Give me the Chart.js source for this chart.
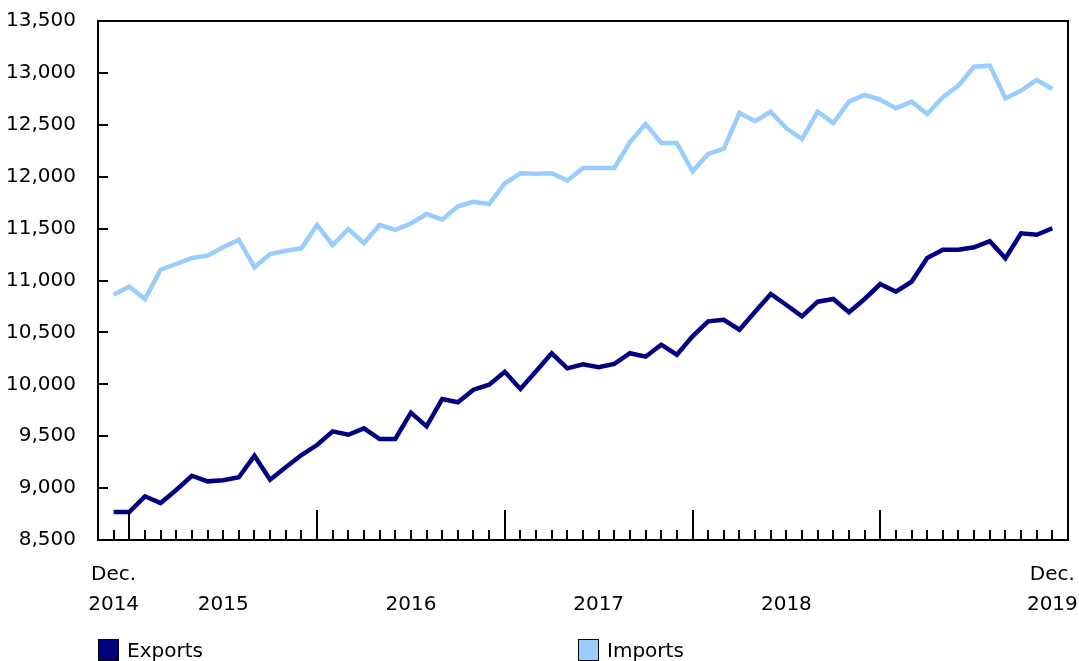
<!DOCTYPE html>
<html>
<head>
<meta charset="utf-8">
<script src="https://cdn.jsdelivr.net/npm/chart.js@4/dist/chart.umd.min.js"></script>
<style>
  html, body { margin: 0; padding: 0; background: #fff; overflow: hidden; }
  #wrap { position: relative; width: 1079px; height: 661px; }
  .legend { position: absolute; top: 638px; display: flex; align-items: center;
            font: 20px "DejaVu Sans", Verdana, sans-serif; color: #000; }
  .legend .box { width: 19px; height: 20px; border: 1px solid #000; margin-right: 8px; }
</style>
</head>
<body>
<div id="wrap">
  <canvas id="chart"></canvas>
  <div class="legend" style="left:98px"><span class="box" style="background:#000080"></span>Exports</div>
  <div class="legend" style="left:578px"><span class="box" style="background:#99ccff"></span>Imports</div>
</div>
<script>
// ======= Data (Dec. 2014 to Dec. 2019, monthly) =======
const exportsData = [
  8770, 8770, 8921, 8856, 8982, 9119, 9065, 9075, 9104, 9312,
  9081, 9200, 9319, 9415, 9547, 9514, 9576, 9473, 9473, 9727,
  9595, 9858, 9827, 9948, 9996, 10121, 9955, 10125, 10299, 10154,
  10193, 10164, 10196, 10299, 10266, 10382, 10285, 10462, 10607, 10621,
  10526, 10699, 10870, 10764, 10655, 10796, 10822, 10694, 10822, 10966,
  10892, 10988, 11217, 11297, 11297, 11320, 11378, 11214, 11455, 11441, 11503
];
const importsData = [
  10863, 10940, 10822, 11104, 11159, 11217, 11239, 11320, 11393, 11127,
  11255, 11287, 11310, 11535, 11342, 11496, 11361, 11535, 11487, 11549,
  11641, 11586, 11715, 11759, 11737, 11936, 12033, 12029, 12033, 11962,
  12084, 12084, 12084, 12334, 12508, 12325, 12325, 12052, 12219, 12270,
  12614, 12534, 12626, 12466, 12363, 12626, 12517, 12723, 12787, 12742,
  12659, 12723, 12604, 12765, 12877, 13060, 13070, 12755, 12829, 12932, 12845
];

// x tick labels (month index -> label lines)
const xLabelIdx = [0, 7, 19, 31, 43, 60];
const xLabelText = [["Dec.", "2014"], ["", "2015"], ["", "2016"], ["", "2017"], ["", "2018"], ["Dec.", "2019"]];
// month indices where a new year starts (January)
const yearStartIdx = [1, 13, 25, 37, 49];

const FONT = '"DejaVu Sans", Verdana, sans-serif';

// ======= Plugins =======
// box around the plot, and inward tick marks on both axes
const frameTicks = {
  id: "frameTicks",
  afterDatasetsDraw(chart) {
    const { ctx, chartArea: a, scales } = chart;
    ctx.save();
    ctx.strokeStyle = "#000";
    ctx.lineWidth = 2;
    ctx.strokeRect(a.left, a.top, a.right - a.left, a.bottom - a.top);

    ctx.lineWidth = 2;
    ctx.beginPath();
    scales.y.ticks.forEach((t) => {
      const y = Math.round(scales.y.getPixelForValue(t.value));
      ctx.moveTo(a.left, y);
      ctx.lineTo(a.left + 10, y);
    });
    for (let i = 0; i < exportsData.length; i++) {
      const x = Math.round(scales.x.getPixelForValue(i));
      const len = yearStartIdx.includes(i) ? 30 : 10;
      ctx.moveTo(x, a.bottom);
      ctx.lineTo(x, a.bottom - len);
    }
    ctx.stroke();
    ctx.restore();
  }
};

// ======= Chart =======
const toXY = (arr) => arr.map((v, i) => ({ x: i, y: v }));

new Chart(document.getElementById("chart"), {
  type: "line",
  data: {
    datasets: [
      { label: "Exports", data: toXY(exportsData), borderColor: "#000080", backgroundColor: "#000080",
        borderWidth: 4.5, pointRadius: 0, tension: 0 },
      { label: "Imports", data: toXY(importsData), borderColor: "#99ccff", backgroundColor: "#99ccff",
        borderWidth: 4.5, pointRadius: 0, tension: 0 }
    ]
  },
  options: {
    responsive: true,
    maintainAspectRatio: false,
    animation: false,
    layout: { padding: { top: 21, right: 11, bottom: 0, left: 0 } },
    plugins: { legend: { display: false }, tooltip: { enabled: false } },
    scales: {
      x: {
        type: "linear",
        min: -1,
        max: 61,
        grid: { display: false },
        border: { display: false },
        afterBuildTicks: (s) => { s.ticks = xLabelIdx.map((v) => ({ value: v })); },
        afterFit: (s) => { s.height = 121; s.paddingLeft = 0; s.paddingRight = 0; },
        ticks: {
          padding: 12,
          maxRotation: 0,
          autoSkip: false,
          color: "#000",
          font: { family: FONT, size: 20, lineHeight: "30px" },
          callback: (v) => xLabelText[xLabelIdx.indexOf(v)]
        }
      },
      y: {
        min: 8500,
        max: 13500,
        grid: { display: false },
        border: { display: false },
        afterFit: (s) => { s.width = 98; s.paddingTop = 0; s.paddingBottom = 0; },
        ticks: {
          stepSize: 500,
          padding: 14,
          color: "#000",
          font: { family: FONT, size: 20 },
          callback: (v) => v.toLocaleString("en-US")
        }
      }
    }
  },
  plugins: [frameTicks]
});
</script>
</body>
</html>
